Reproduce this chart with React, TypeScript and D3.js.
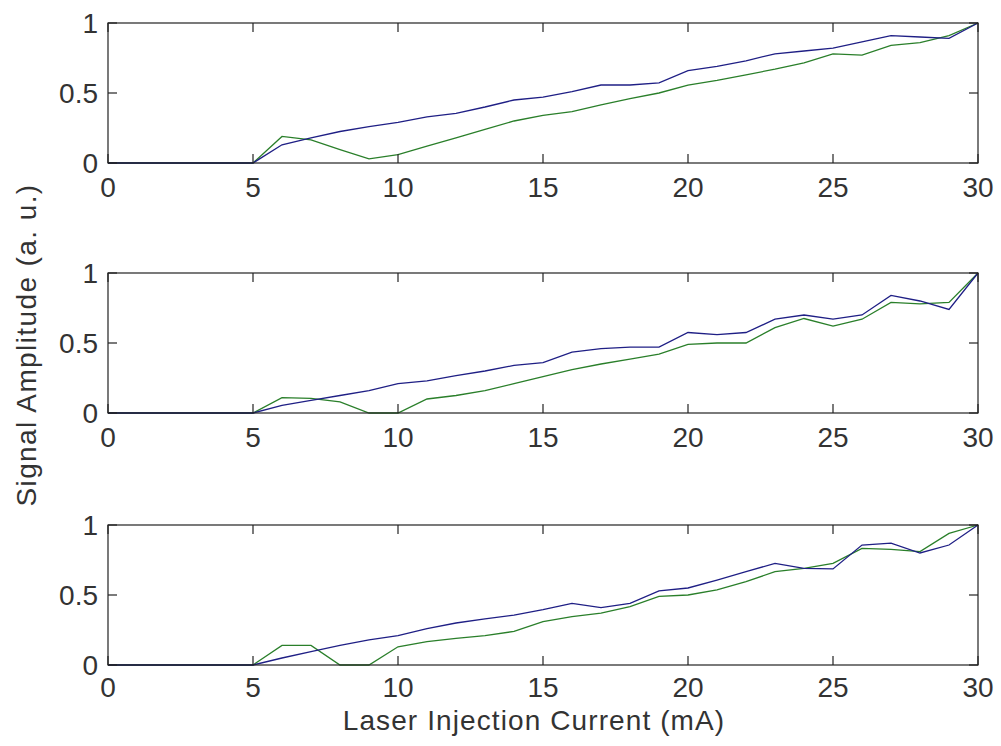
import React from "react";
import * as d3 from "d3";

const current = d3.range(0, 31);

const panel1Blue = [0, 0, 0, 0, 0, 0, 0.13, 0.18, 0.225, 0.26, 0.29, 0.33, 0.355, 0.4, 0.45, 0.47, 0.51, 0.557, 0.557, 0.573, 0.66, 0.69, 0.73, 0.78, 0.8, 0.82, 0.865, 0.91, 0.9, 0.89, 1];
const panel1Green = [0, 0, 0, 0, 0, 0, 0.19, 0.165, 0.095, 0.03, 0.06, 0.12, 0.18, 0.24, 0.3, 0.34, 0.367, 0.415, 0.46, 0.5, 0.557, 0.59, 0.63, 0.67, 0.715, 0.78, 0.77, 0.84, 0.86, 0.91, 1];

const panel2Blue = [0, 0, 0, 0, 0, 0, 0.055, 0.09, 0.125, 0.16, 0.21, 0.23, 0.267, 0.3, 0.34, 0.36, 0.435, 0.46, 0.47, 0.47, 0.575, 0.56, 0.575, 0.67, 0.7, 0.67, 0.7, 0.84, 0.8, 0.74, 1];
const panel2Green = [0, 0, 0, 0, 0, 0, 0.11, 0.105, 0.08, 0, 0, 0.1, 0.125, 0.16, 0.21, 0.26, 0.31, 0.35, 0.385, 0.42, 0.49, 0.5, 0.5, 0.61, 0.675, 0.62, 0.67, 0.79, 0.78, 0.79, 1];

const panel3Blue = [0, 0, 0, 0, 0, 0, 0.05, 0.095, 0.14, 0.18, 0.21, 0.26, 0.3, 0.33, 0.357, 0.395, 0.44, 0.41, 0.44, 0.53, 0.55, 0.607, 0.667, 0.726, 0.69, 0.686, 0.857, 0.87, 0.8, 0.857, 1];
const panel3Green = [0, 0, 0, 0, 0, 0, 0.14, 0.14, 0, 0, 0.13, 0.167, 0.19, 0.21, 0.24, 0.31, 0.345, 0.37, 0.417, 0.49, 0.5, 0.536, 0.595, 0.667, 0.69, 0.726, 0.833, 0.826, 0.81, 0.94, 1];

const xTicks = [0, 5, 10, 15, 20, 25, 30];
const yTicks = [0, 0.5, 1];
const yTickLabels = ["0", "0.5", "1"];

const xLabel = "Laser Injection Current (mA)";
const yLabel = "Signal Amplitude (a. u.)";

const panels = [
  { blue: panel1Blue, green: panel1Green },
  { blue: panel2Blue, green: panel2Green },
  { blue: panel3Blue, green: panel3Green },
];

const W = 1001;
const H = 746;
const left = 108;
const right = 978;
const tops = [23, 273, 525];
const ph = 140;
const FONT = "'Liberation Sans', Arial, sans-serif";
const FS = 28;
const BLUE = "#1f1f85";
const GREEN = "#2a7f2a";
const AXIS = "#222";
const TEXT = "#333";

export default function App() {
  const x = d3.scaleLinear().domain([0, 30]).range([left, right]);
  return (
    <svg width={W} height={H} style={{ position: "absolute", left: 0, top: 0, background: "#fff" }}>
      {panels.map((p, i) => {
        const top = tops[i];
        const y = d3.scaleLinear().domain([0, 1]).range([top + ph, top]);
        const line = d3
          .line<number>()
          .x((_, j) => x(current[j]))
          .y((d) => y(d));
        const tickBase = i === 2 ? top + ph + 32 : top + ph + 34;
        return (
          <g key={i}>
            <rect x={left} y={top} width={right - left} height={ph} fill="#fff" />
            <path d={line(p.green) || ""} fill="none" stroke={GREEN} strokeWidth={1.3} />
            <path d={line(p.blue) || ""} fill="none" stroke={BLUE} strokeWidth={1.3} />
            <rect x={left} y={top} width={right - left} height={ph} fill="none" stroke={AXIS} strokeWidth={1.2} />
            {xTicks.map((t) => (
              <g key={"x" + t}>
                <line x1={x(t)} x2={x(t)} y1={top + ph} y2={top + ph - 9} stroke={AXIS} strokeWidth={1.2} />
                <line x1={x(t)} x2={x(t)} y1={top} y2={top + 9} stroke={AXIS} strokeWidth={1.2} />
                <text x={x(t)} y={tickBase} textAnchor="middle" fontFamily={FONT} fontSize={FS} fill={TEXT}>
                  {t}
                </text>
              </g>
            ))}
            {yTicks.map((t, k) => (
              <g key={"y" + t}>
                <line x1={left} x2={left + 9} y1={y(t)} y2={y(t)} stroke={AXIS} strokeWidth={1.2} />
                <line x1={right} x2={right - 9} y1={y(t)} y2={y(t)} stroke={AXIS} strokeWidth={1.2} />
                <text x={left - 10} y={y(t)} dy="0.36em" textAnchor="end" fontFamily={FONT} fontSize={FS} fill={TEXT}>
                  {yTickLabels[k]}
                </text>
              </g>
            ))}
          </g>
        );
      })}
      <text x={534} y={730} textAnchor="middle" fontFamily={FONT} fontSize={FS} letterSpacing={1.1} fill={TEXT}>
        {xLabel}
      </text>
      <text
        transform={`translate(36, 345) rotate(-90)`}
        textAnchor="middle"
        fontFamily={FONT}
        fontSize={FS}
        letterSpacing={1.4}
        fill={TEXT}
      >
        {yLabel}
      </text>
    </svg>
  );
}
